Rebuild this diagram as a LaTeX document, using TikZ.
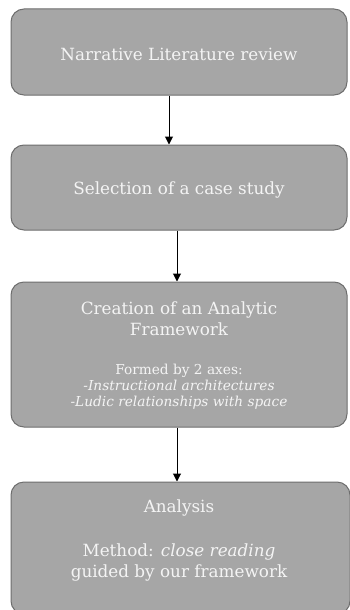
\documentclass[tikz,border=0pt]{standalone}
\usepackage{fontspec}
\setmainfont{DejaVu Serif}
\usetikzlibrary{arrows.meta}
\definecolor{boxfill}{HTML}{A6A6A6}
\definecolor{boxline}{HTML}{6E6E6E}
\definecolor{txt}{HTML}{F4F4F4}
\begin{document}
\begin{tikzpicture}[x=1pt,y=-1pt,
  stepbox/.style={draw=boxline, line width=1pt, fill=boxfill, rounded corners=13pt,
    minimum width=336pt, text=txt, align=center, inner sep=0pt},
  lbl/.style={text=txt, align=center, inner sep=0pt},
  bigf/.style={font=\fontsize{16.8}{21}\selectfont},
  smallf/.style={font=\fontsize{13.7}{16}\selectfont},
  arr/.style={-{Triangle[length=8pt,width=8pt]}, line width=1pt}]
\useasboundingbox (0,0) rectangle (350,610);
\fill[white] (0,0) rectangle (350,610);
\clip (0,0) rectangle (350,610);
\node[stepbox, minimum height=86pt] (b1) at (179,52) {};
\node[stepbox, minimum height=85pt] (b2) at (179,187.5) {};
\node[stepbox, minimum height=145pt] (b3) at (179,354.5) {};
\node[stepbox, minimum width=339pt, minimum height=132pt] (b4) at (180.5,548) {};
\node[lbl, bigf] (t1) at (179,54.5) {Narrative Literature review};
\node[lbl, bigf] (t2) at (179,189.5) {Selection of a case study};
\node[lbl, bigf] (t3a) at (179,318.5) {Creation of an Analytic\\Framework};
\node[lbl, smallf] (t3b) at (179,387) {Formed by 2 axes:\\\textit{-Instructional architectures}\\\textit{-Ludic relationships with space}};
\node[lbl, bigf] (t4a) at (179,508) {Analysis};
\node[lbl, bigf] (t4b) at (179,562) {Method: \textit{close reading}\\guided by our framework};
\draw[arr] ([xshift=-10pt]b1.south) -- ([xshift=-10pt]b2.north);
\draw[arr] ([xshift=-2pt]b2.south) -- ([xshift=-2pt]b3.north);
\draw[arr] ([xshift=-2pt]b3.south) -- ([xshift=-3.5pt]b4.north);
\end{tikzpicture}
\end{document}
